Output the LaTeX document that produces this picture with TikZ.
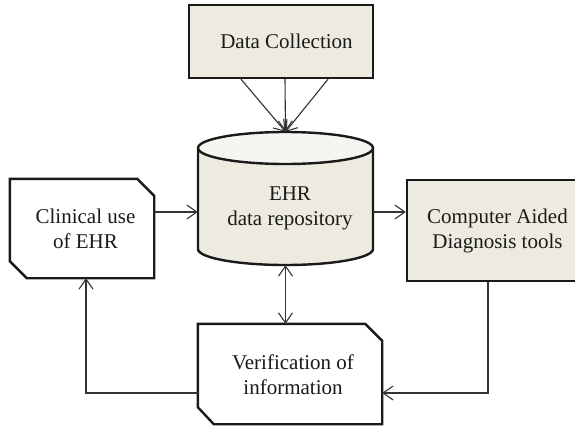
\documentclass[tikz,border=0pt]{standalone}
\usepackage{fontspec}
\setmainfont{Liberation Serif}
\usetikzlibrary{arrows.meta}
\definecolor{boxfill}{HTML}{EDEBE0}
\definecolor{topfill}{HTML}{F6F5EF}
\definecolor{ink}{HTML}{1A1A1A}
\begin{document}
\begin{tikzpicture}[x=1pt,y=-1pt,
  font=\fontsize{21}{25}\selectfont,
  box/.style={draw=ink, line width=2.4pt, fill=boxfill, inner sep=0pt},
  area/.style={inner sep=0pt},
  chamline/.style={draw=ink, line width=2.4pt, fill=white, line join=miter},
  lbl/.style={align=center, text=ink, inner sep=0pt},
  arr/.style={-{Straight Barb[length=10pt,width=14pt]}, line width=1.1pt, draw=black!80},
  darr/.style={{Straight Barb[length=10pt,width=14pt]}-{Straight Barb[length=10pt,width=14pt]}, line width=1.1pt, draw=black!80}]
\path[use as bounding box, clip] (0,0) rectangle (575,426);

% nodes
\node[box, minimum width=184pt, minimum height=73pt] (dc) at (281,41.5) {};
\node[lbl] (dctext) at (286.5,41.5) {Data Collection};

\node[area, minimum width=144pt, minimum height=99pt] (clin) at (82,228.5) {};
\draw[chamline] (clin.north west) -- ([xshift=-17pt]clin.north east) -- ([yshift=-17pt]clin.north east)
  -- (clin.south east) -- ([xshift=17pt]clin.south west) -- ([yshift=17pt]clin.south west) -- cycle;
\node[lbl] (clintext) at (85.5,229) {Clinical use\\of EHR};

\node[area, minimum width=184pt, minimum height=100pt] (ver) at (290,374) {};
\draw[chamline] (ver.north west) -- ([xshift=-17pt]ver.north east) -- ([yshift=-17pt]ver.north east)
  -- (ver.south east) -- ([xshift=16pt]ver.south west) -- ([yshift=17pt]ver.south west) -- cycle;
\node[lbl] (vertext) at (293,375) {Verification of\\information};

\node[box, minimum width=181pt, minimum height=101pt] (cad) at (497.5,230.5) {};
\node[lbl] (cadtext) at (497.5,231) {Computer Aided\\Diagnosis tools};

% cylinder
\node[area, minimum width=175pt, minimum height=133pt] (repo) at (285.5,198.5) {};
\path[fill=boxfill] (198,148) -- (198,249) arc[start angle=180,end angle=360,x radius=87.5pt,y radius=16pt] -- (373,148) -- cycle;
\draw[line width=2.4pt, draw=ink, fill=topfill] (285.5,148) ellipse [x radius=87.5pt, y radius=16pt];
\draw[line width=2.4pt, draw=ink] (198,148) -- (198,249) arc[start angle=180,end angle=360,x radius=87.5pt,y radius=16pt] -- (373,148);
\node[lbl] (repotext) at (290,208) {EHR\\data repository};

% connectors
\draw[arr] ([xshift=-40pt]dc.south) -- (repo.north);
\draw[arr] ([xshift=4pt]dc.south) -- (repo.north);
\draw[arr] ([xshift=47pt]dc.south) -- (repo.north);

\coordinate (c1) at ([yshift=16.5pt]clin.east);
\draw[arr] (c1) -- (c1 -| repo.west);
\draw[arr] (c1 -| repo.east) -- (c1 -| cad.west);

\draw[darr] (repo.south) -- (repo.south |- ver.north);

\coordinate (v1) at ([yshift=-19pt]ver.east);
\draw[arr] ([xshift=-9.5pt]cad.south) -- ([xshift=-9.5pt]cad.south |- v1) -- (v1);

\coordinate (v2) at ([yshift=-19pt]ver.west);
\draw[arr] (v2) -| ([xshift=4pt]clin.south);
\end{tikzpicture}
\end{document}
